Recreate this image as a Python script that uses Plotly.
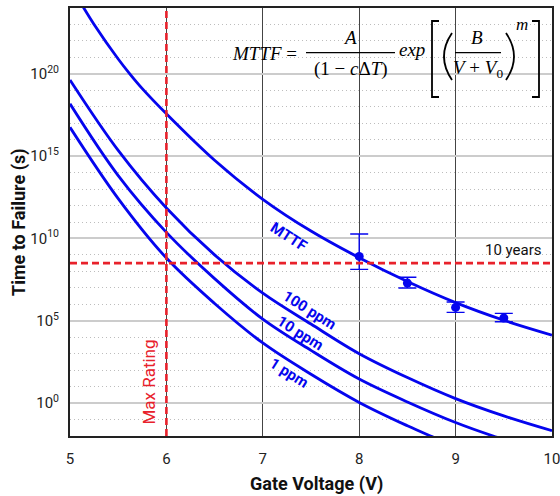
import plotly.graph_objects as go

# ---------------- data ----------------
# Gate voltage (V) and log10(time to failure in s)
MTTF_V = [5.1, 5.25, 5.5, 5.62, 5.75, 6.0, 6.5, 7.0, 7.5, 8.0, 8.5, 9.0, 9.5, 10.0]
MTTF_LOG = [24.42, 23.0, 20.9, 20.0, 19.1, 17.57, 14.75, 12.38, 10.45, 8.83, 7.38, 6.1, 5.03, 4.13]

P100_V = [5.0, 5.5, 6.0, 6.5, 7.0, 7.5, 8.0, 8.5, 9.0, 9.5, 10.0]
P100_LOG = [19.63, 15.35, 11.85, 9.0, 6.68, 4.8, 3.0, 1.55, 0.27, -0.78, -1.68]

P10_V = [5.0, 5.5, 6.0, 6.5, 7.0, 7.5, 8.0, 8.5, 9.0, 9.39, 9.5]
P10_LOG = [18.18, 13.82, 10.37, 7.56, 5.1, 3.2, 1.46, 0.07, -1.18, -2.0, -2.2]

P1_V = [5.0, 5.5, 6.0, 6.5, 7.0, 7.5, 8.0, 8.5, 8.74, 8.8]
P1_LOG = [16.75, 12.42, 8.81, 6.05, 3.65, 1.75, 0.04, -1.38, -2.0, -2.15]

MEAS_V = [8.0, 8.5, 9.0, 9.5]
MEAS_LOG = [8.91, 7.29, 5.81, 5.17]
MEAS_HI_LOG = [10.27, 7.64, 6.14, 5.45]
MEAS_LO_LOG = [8.12, 6.99, 5.51, 4.94]

MAX_RATING_V = 6.0
TEN_YEARS_S = 3.156e8

X_TICKS = [5, 6, 7, 8, 9, 10]
Y_TICK_EXP = [0, 5, 10, 15, 20]
Y_TICK_TEXT = ["10<sup>0</sup>", "10<sup>5</sup>", "10<sup>10</sup>", "10<sup>15</sup>", "10<sup>20</sup>"]

CURVE_LABELS = ["MTTF", "100 ppm", "10 ppm", "1 ppm"]

# ---------------- styling ----------------
BLUE = "#0505ee"
RED = "#e8212b"
SANS = "Roboto, Lato, sans-serif"
SERIF = "Liberation Serif, DejaVu Serif, serif"


def pw(v):
    return [10.0 ** e for e in v]


fig = go.Figure()
for xs, ls in [(MTTF_V, MTTF_LOG), (P100_V, P100_LOG), (P10_V, P10_LOG), (P1_V, P1_LOG)]:
    fig.add_trace(go.Scatter(x=xs, y=pw(ls), mode="lines",
                             line=dict(color=BLUE, width=2.8, shape="spline", smoothing=1.0),
                             hoverinfo="skip"))

mid = pw(MEAS_LOG)
hi = pw(MEAS_HI_LOG)
lo = pw(MEAS_LO_LOG)
fig.add_trace(go.Scatter(
    x=MEAS_V, y=mid, mode="markers",
    marker=dict(color=BLUE, size=9),
    error_y=dict(type="data", symmetric=False,
                 array=[h - m for h, m in zip(hi, mid)],
                 arrayminus=[m - l for m, l in zip(mid, lo)],
                 color=BLUE, thickness=1.4, width=9),
))

# plot area in pixels: x 70..552, y 8..436
L, R, T, B = 70, 552, 8, 436


def px(x):
    return (x - L) / (R - L)


def py(y):
    return (B - y) / (B - T)


shapes = []
# white box behind the equation
shapes.append(dict(type="rect", xref="paper", yref="paper", x0=px(223), x1=px(542),
                   y0=py(114), y1=py(22), fillcolor="white", line=dict(width=0), layer="between"))
# red dashed reference lines
shapes.append(dict(type="line", xref="x", yref="paper", x0=MAX_RATING_V, x1=MAX_RATING_V, y0=0, y1=1,
                   line=dict(color=RED, width=2.6, dash="7px,4px"), layer="above"))
shapes.append(dict(type="line", xref="paper", yref="y", x0=0, x1=1, y0=TEN_YEARS_S, y1=TEN_YEARS_S,
                   line=dict(color=RED, width=2.6, dash="7px,4px"), layer="above"))

# equation decorations: fraction bars, brackets, parentheses
EQ = dict(color="black", width=1.3)
shapes.append(dict(type="line", xref="paper", yref="paper", x0=px(306), x1=px(395), y0=py(52.7), y1=py(52.7), line=EQ))
shapes.append(dict(type="line", xref="paper", yref="paper", x0=px(455), x1=px(501), y0=py(52.7), y1=py(52.7), line=EQ))


def path(points):
    return "M " + " L ".join(f"{px(a):.5f},{py(b):.5f}" for a, b in points)


BR = dict(color="black", width=1.8)
shapes.append(dict(type="path", xref="paper", yref="paper",
                   path=path([(439, 21), (432, 21), (432, 97), (439, 97)]), line=BR))
shapes.append(dict(type="path", xref="paper", yref="paper",
                   path=path([(532, 21), (539, 21), (539, 97), (532, 97)]), line=BR))
shapes.append(dict(type="path", xref="paper", yref="paper",
                   path=f"M {px(452):.5f},{py(33):.5f} Q {px(436):.5f},{py(56.5):.5f} {px(452):.5f},{py(80):.5f}",
                   line=BR))
shapes.append(dict(type="path", xref="paper", yref="paper",
                   path=f"M {px(506):.5f},{py(33):.5f} Q {px(522):.5f},{py(56.5):.5f} {px(506):.5f},{py(80):.5f}",
                   line=BR))

ann = []


def eq_text(txt, x, y, size=19, anchor="center"):
    ann.append(dict(text=txt, xref="paper", yref="paper", x=px(x), y=py(y), xanchor=anchor,
                    yanchor="middle", showarrow=False, font=dict(family=SERIF, size=size, color="black")))


eq_text("<i>MTTF</i> =", 299, 54, anchor="right")
eq_text("<i>A</i>", 350, 37)
eq_text("(1 − <i>c</i>Δ<i>T</i>)", 350.5, 69)
eq_text("<i>exp</i>", 412, 50)
eq_text("<i>B</i>", 477, 37)
eq_text("<i>V</i> + <i>V</i><sub>0</sub>", 478, 69)
eq_text("<i>m</i>", 522, 24, size=17)

# curve labels (x in V, y in log10 s)
LABEL_POS = [(7.274, 10.11, 33), (7.482, 5.67, 32), (7.388, 4.27, 32), (7.274, 1.84, 32)]
for txt, (lx, ly, ang) in zip(CURVE_LABELS, LABEL_POS):
    ann.append(dict(text=f"<b>{txt}</b>", x=lx, y=ly, xref="x", yref="y", showarrow=False,
                    textangle=ang, font=dict(family=SANS, size=15, color=BLUE)))

ann.append(dict(text="10 years", x=9.917, y=9.29, xref="x", yref="y", xanchor="right", showarrow=False,
                font=dict(family=SANS, size=15, color="#111")))
ann.append(dict(text="Max Rating", x=5.822, y=1.26, xref="x", yref="y", showarrow=False, textangle=-90,
                font=dict(family=SANS, size=17, color=RED)))

# axis titles
ann.append(dict(text="<b>Gate Voltage (V)</b>", xref="paper", yref="paper", x=px(316), y=py(484),
                xanchor="center", yanchor="middle", showarrow=False,
                font=dict(family=SANS, size=18, color="#111")))
ann.append(dict(text="<b>Time to Failure (s)</b>", xref="paper", yref="paper", x=px(19), y=py(222),
                xanchor="center", yanchor="middle", showarrow=False, textangle=-90,
                font=dict(family=SANS, size=18, color="#111")))

fig.update_layout(
    width=560, height=496,
    margin=dict(l=L, r=560 - R, t=T, b=496 - B),
    paper_bgcolor="white", plot_bgcolor="white",
    showlegend=False,
    shapes=shapes, annotations=ann,
    font=dict(family=SANS, color="#111"),
    xaxis=dict(range=[5, 10], tickmode="array", tickvals=X_TICKS, ticktext=[str(t) for t in X_TICKS],
               showgrid=True, gridcolor="#444", gridwidth=1, zeroline=False, automargin=False,
               showline=True, mirror=True, linecolor="#222", linewidth=2, ticks="",
               ticklabeloverflow="allow",
               ticklabelstandoff=8, tickfont=dict(family=SANS, size=15, color="#222")),
    yaxis=dict(type="log", range=[-2, 24], tickmode="array",
               tickvals=[10.0 ** e for e in Y_TICK_EXP], ticktext=Y_TICK_TEXT,
               showgrid=True, gridcolor="#cccccc", gridwidth=1.5, zeroline=False, automargin=False,
               minor=dict(tickmode="linear", tick0=0, dtick=1, showgrid=True, gridcolor="#bdbdbd",
                          griddash="1px,3px", gridwidth=1, ticks=""),
               showline=True, mirror=True, linecolor="#222", linewidth=2, ticks="",
               ticklabelstandoff=6, tickfont=dict(family=SANS, size=15, color="#222")),
)

fig.write_html("out.html", config={"displayModeBar": False},
               post_script="document.body.style.margin='0';document.body.style.overflow='hidden';")
